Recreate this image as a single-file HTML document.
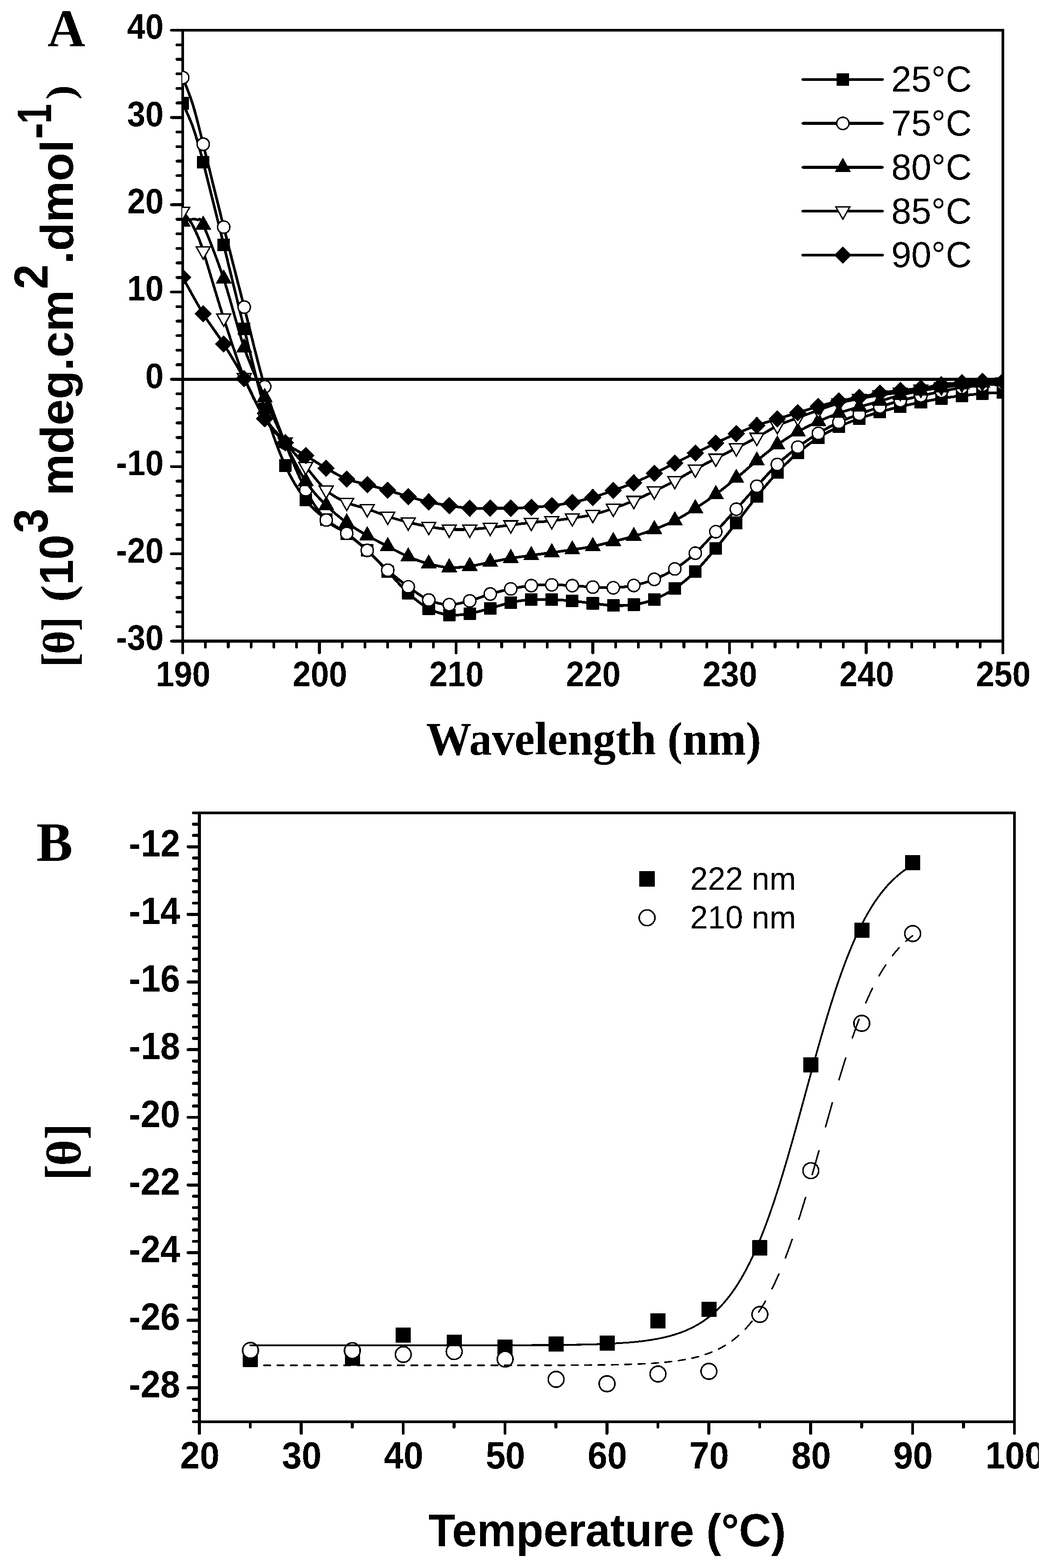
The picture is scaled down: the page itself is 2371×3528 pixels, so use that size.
<!DOCTYPE html>
<html lang="en">
<head>
<meta charset="utf-8">
<title>CD spectra and thermal denaturation</title>
<style>
html,body{margin:0;padding:0;background:#fff;}
#figure{width:2371px;height:3528px;overflow:hidden;position:relative;background:#fff;}
svg{display:block;}
text{white-space:pre;}
</style>
</head>
<body>
<div id="figure">
<svg width="2371" height="3528" viewBox="0 0 2371 3528" role="img" aria-label="Circular dichroism spectra at several temperatures and thermal denaturation curves">
<defs>
<filter id="bw" filterUnits="userSpaceOnUse" x="0" y="0" width="2371" height="3528" color-interpolation-filters="sRGB">
<feComponentTransfer>
<feFuncR type="discrete" tableValues="0 1"/>
<feFuncG type="discrete" tableValues="0 1"/>
<feFuncB type="discrete" tableValues="0 1"/>
</feComponentTransfer>
</filter>
</defs>
<g filter="url(#bw)">
<rect x="0" y="0" width="2371" height="3528" fill="#fff"/>
<g id="panelA-axes" stroke="#000" stroke-linecap="butt" fill="none">
<path d="M411 65 V1446" stroke-width="6.2"/>
<path d="M2256 65 V1446" stroke-width="6.2"/>
<path d="M411 68 H2256" stroke-width="6.2"/>
<path d="M411 1442.5 H2256" stroke-width="7"/>
<path d="M411 853.73 H2256" stroke-width="6.4"/>
</g>
<g id="panelA-ticks" stroke="#000" stroke-width="6.2" stroke-linecap="round" fill="none">
<path d="M385.5 68 H411 M398 100.73 H411 M398 133.45 H411 M398 166.18 H411 M398 198.9 H411 M398 231.63 H411 M385.5 264.36 H411 M398 297.08 H411 M398 329.81 H411 M398 362.54 H411 M398 395.26 H411 M398 427.99 H411 M385.5 460.71 H411 M398 493.44 H411 M398 526.17 H411 M398 558.89 H411 M398 591.62 H411 M398 624.35 H411 M385.5 657.07 H411 M398 689.8 H411 M398 722.52 H411 M398 755.25 H411 M398 787.98 H411 M398 820.7 H411 M385.5 853.43 H411 M398 886.15 H411 M398 918.88 H411 M398 951.61 H411 M398 984.33 H411 M398 1017.06 H411 M385.5 1049.79 H411 M398 1082.51 H411 M398 1115.24 H411 M398 1147.96 H411 M398 1180.69 H411 M398 1213.42 H411 M385.5 1246.14 H411 M398 1278.87 H411 M398 1311.6 H411 M398 1344.32 H411 M398 1377.05 H411 M398 1409.77 H411 M385.5 1442.5 H411 M411 1443.5 V1469 M462.25 1443.5 V1456 M513.5 1443.5 V1456 M564.75 1443.5 V1456 M616 1443.5 V1456 M667.25 1443.5 V1456 M718.5 1443.5 V1469 M769.75 1443.5 V1456 M821 1443.5 V1456 M872.25 1443.5 V1456 M923.5 1443.5 V1456 M974.75 1443.5 V1456 M1026 1443.5 V1469 M1077.25 1443.5 V1456 M1128.5 1443.5 V1456 M1179.75 1443.5 V1456 M1231 1443.5 V1456 M1282.25 1443.5 V1456 M1333.5 1443.5 V1469 M1384.75 1443.5 V1456 M1436 1443.5 V1456 M1487.25 1443.5 V1456 M1538.5 1443.5 V1456 M1589.75 1443.5 V1456 M1641 1443.5 V1469 M1692.25 1443.5 V1456 M1743.5 1443.5 V1456 M1794.75 1443.5 V1456 M1846 1443.5 V1456 M1897.25 1443.5 V1456 M1948.5 1443.5 V1469 M1999.75 1443.5 V1456 M2051 1443.5 V1456 M2102.25 1443.5 V1456 M2153.5 1443.5 V1456 M2204.75 1443.5 V1456 M2256 1443.5 V1469"/>
</g>
<g id="panelA-ticklabels">
<text transform="translate(367.8 87.4) scale(0.925 1)" font-family='"Liberation Sans", sans-serif' font-weight="700" font-size="79.5" text-anchor="end" fill="#000">40</text>
<text transform="translate(367.8 283.76) scale(0.925 1)" font-family='"Liberation Sans", sans-serif' font-weight="700" font-size="79.5" text-anchor="end" fill="#000">30</text>
<text transform="translate(367.8 480.11) scale(0.925 1)" font-family='"Liberation Sans", sans-serif' font-weight="700" font-size="79.5" text-anchor="end" fill="#000">20</text>
<text transform="translate(367.8 676.47) scale(0.925 1)" font-family='"Liberation Sans", sans-serif' font-weight="700" font-size="79.5" text-anchor="end" fill="#000">10</text>
<text transform="translate(367.8 872.83) scale(0.925 1)" font-family='"Liberation Sans", sans-serif' font-weight="700" font-size="79.5" text-anchor="end" fill="#000">0</text>
<text transform="translate(367.8 1069.19) scale(0.925 1)" font-family='"Liberation Sans", sans-serif' font-weight="700" font-size="79.5" text-anchor="end" fill="#000">-10</text>
<text transform="translate(367.8 1265.54) scale(0.925 1)" font-family='"Liberation Sans", sans-serif' font-weight="700" font-size="79.5" text-anchor="end" fill="#000">-20</text>
<text transform="translate(367.8 1461.9) scale(0.925 1)" font-family='"Liberation Sans", sans-serif' font-weight="700" font-size="79.5" text-anchor="end" fill="#000">-30</text>
<text transform="translate(412 1544) scale(0.925 1)" font-family='"Liberation Sans", sans-serif' font-weight="700" font-size="79.5" text-anchor="middle" fill="#000">190</text>
<text transform="translate(719.5 1544) scale(0.925 1)" font-family='"Liberation Sans", sans-serif' font-weight="700" font-size="79.5" text-anchor="middle" fill="#000">200</text>
<text transform="translate(1027 1544) scale(0.925 1)" font-family='"Liberation Sans", sans-serif' font-weight="700" font-size="79.5" text-anchor="middle" fill="#000">210</text>
<text transform="translate(1334.5 1544) scale(0.925 1)" font-family='"Liberation Sans", sans-serif' font-weight="700" font-size="79.5" text-anchor="middle" fill="#000">220</text>
<text transform="translate(1642 1544) scale(0.925 1)" font-family='"Liberation Sans", sans-serif' font-weight="700" font-size="79.5" text-anchor="middle" fill="#000">230</text>
<text transform="translate(1949.5 1544) scale(0.925 1)" font-family='"Liberation Sans", sans-serif' font-weight="700" font-size="79.5" text-anchor="middle" fill="#000">240</text>
<text transform="translate(2257 1544) scale(0.925 1)" font-family='"Liberation Sans", sans-serif' font-weight="700" font-size="79.5" text-anchor="middle" fill="#000">250</text>
</g>
<clipPath id="clipA"><rect x="410" y="68" width="1847" height="1374.5"/></clipPath>
<g id="panelA-data" clip-path="url(#clipA)">
<path d="M411 232.5 C414.83 241.42 426.31 263.92 434 286 C441.69 308.08 445.58 320.83 457.12 365 C468.67 409.17 487.88 488.5 503.25 551 C518.62 613.5 534 678.5 549.38 740 C564.75 801.5 580.12 868.75 595.5 920 C610.88 971.25 626.25 1013.37 641.62 1047.5 C657 1081.63 672.38 1104.55 687.75 1124.8 C703.12 1145.05 718.5 1156.3 733.88 1169 C749.25 1181.7 764.62 1189.43 780 1201 C795.38 1212.57 810.75 1224.23 826.12 1238.4 C841.5 1252.57 856.88 1269.98 872.25 1286 C887.62 1302.02 903 1320.58 918.38 1334.5 C933.75 1348.42 949.12 1361.32 964.5 1369.5 C979.88 1377.68 995.25 1381.75 1010.62 1383.6 C1026 1385.45 1041.38 1383.08 1056.75 1380.6 C1072.12 1378.12 1087.5 1372.85 1102.88 1368.7 C1118.25 1364.55 1133.62 1358.98 1149 1355.7 C1164.38 1352.42 1179.75 1350.12 1195.12 1349 C1210.5 1347.88 1225.88 1348.5 1241.25 1349 C1256.62 1349.5 1272 1350.58 1287.38 1352 C1302.75 1353.42 1318.12 1355.77 1333.5 1357.5 C1348.88 1359.23 1364.25 1361.9 1379.62 1362.4 C1395 1362.9 1410.38 1362.8 1425.75 1360.5 C1441.12 1358.2 1456.5 1354.68 1471.88 1348.6 C1487.25 1342.52 1502.62 1334.43 1518 1324 C1533.38 1313.57 1548.75 1301.02 1564.12 1286 C1579.5 1270.98 1594.88 1252.15 1610.25 1233.9 C1625.62 1215.65 1641 1195.93 1656.38 1176.5 C1671.75 1157.07 1687.12 1136.17 1702.5 1117.3 C1717.88 1098.43 1733.25 1079.68 1748.62 1063.3 C1764 1046.92 1779.38 1032.05 1794.75 1019 C1810.12 1005.95 1825.5 994.83 1840.88 985 C1856.25 975.17 1871.62 967.22 1887 960 C1902.38 952.78 1917.75 947.2 1933.12 941.7 C1948.5 936.2 1963.88 931.45 1979.25 927 C1994.62 922.55 2010 918.67 2025.38 915 C2040.75 911.33 2056.12 908.08 2071.5 905 C2086.88 901.92 2102.25 898.92 2117.62 896.5 C2133 894.08 2148.38 892.33 2163.75 890.5 C2179.12 888.67 2194.5 886.79 2209.88 885.5 C2225.25 884.21 2248.31 883.21 2256 882.75" fill="none" stroke="#000" stroke-width="6" stroke-linejoin="round"/>
<g fill="#000" stroke="none">
<rect x="397" y="218.5" width="28" height="28"/>
<rect x="443.12" y="351" width="28" height="28"/>
<rect x="489.25" y="537" width="28" height="28"/>
<rect x="535.38" y="726" width="28" height="28"/>
<rect x="581.5" y="906" width="28" height="28"/>
<rect x="627.62" y="1033.5" width="28" height="28"/>
<rect x="673.75" y="1110.8" width="28" height="28"/>
<rect x="719.88" y="1155" width="28" height="28"/>
<rect x="766" y="1187" width="28" height="28"/>
<rect x="812.12" y="1224.4" width="28" height="28"/>
<rect x="858.25" y="1272" width="28" height="28"/>
<rect x="904.38" y="1320.5" width="28" height="28"/>
<rect x="950.5" y="1355.5" width="28" height="28"/>
<rect x="996.62" y="1369.6" width="28" height="28"/>
<rect x="1042.75" y="1366.6" width="28" height="28"/>
<rect x="1088.88" y="1354.7" width="28" height="28"/>
<rect x="1135" y="1341.7" width="28" height="28"/>
<rect x="1181.12" y="1335" width="28" height="28"/>
<rect x="1227.25" y="1335" width="28" height="28"/>
<rect x="1273.38" y="1338" width="28" height="28"/>
<rect x="1319.5" y="1343.5" width="28" height="28"/>
<rect x="1365.62" y="1348.4" width="28" height="28"/>
<rect x="1411.75" y="1346.5" width="28" height="28"/>
<rect x="1457.88" y="1334.6" width="28" height="28"/>
<rect x="1504" y="1310" width="28" height="28"/>
<rect x="1550.12" y="1272" width="28" height="28"/>
<rect x="1596.25" y="1219.9" width="28" height="28"/>
<rect x="1642.38" y="1162.5" width="28" height="28"/>
<rect x="1688.5" y="1103.3" width="28" height="28"/>
<rect x="1734.62" y="1049.3" width="28" height="28"/>
<rect x="1780.75" y="1005" width="28" height="28"/>
<rect x="1826.88" y="971" width="28" height="28"/>
<rect x="1873" y="946" width="28" height="28"/>
<rect x="1919.12" y="927.7" width="28" height="28"/>
<rect x="1965.25" y="913" width="28" height="28"/>
<rect x="2011.38" y="901" width="28" height="28"/>
<rect x="2057.5" y="891" width="28" height="28"/>
<rect x="2103.62" y="882.5" width="28" height="28"/>
<rect x="2149.75" y="876.5" width="28" height="28"/>
<rect x="2195.88" y="871.5" width="28" height="28"/>
<rect x="2242" y="868.75" width="28" height="28"/>
</g>
<path d="M411 174.5 C414.83 184.75 426.31 211 434 236 C441.69 261 445.58 278.67 457.12 324.5 C468.67 370.33 487.88 449.92 503.25 511 C518.62 572.08 534 631.17 549.38 691 C564.75 750.83 580.12 819 595.5 870 C610.88 921 626.25 958.27 641.62 997 C657 1035.73 672.38 1073.53 687.75 1102.4 C703.12 1131.27 718.5 1153.93 733.88 1170.2 C749.25 1186.47 764.62 1188.63 780 1200 C795.38 1211.37 810.75 1224.57 826.12 1238.4 C841.5 1252.23 856.88 1269.35 872.25 1283 C887.62 1296.65 903 1309.13 918.38 1320.3 C933.75 1331.47 949.12 1343.3 964.5 1350 C979.88 1356.7 995.25 1360.17 1010.62 1360.5 C1026 1360.83 1041.38 1356 1056.75 1352 C1072.12 1348 1087.5 1341 1102.88 1336.5 C1118.25 1332 1133.62 1328.13 1149 1325 C1164.38 1321.87 1179.75 1319.23 1195.12 1317.7 C1210.5 1316.17 1225.88 1315.8 1241.25 1315.8 C1256.62 1315.8 1272 1316.83 1287.38 1317.7 C1302.75 1318.57 1318.12 1320.2 1333.5 1321 C1348.88 1321.8 1364.25 1323.12 1379.62 1322.5 C1395 1321.88 1410.38 1320.47 1425.75 1317.3 C1441.12 1314.13 1456.5 1309.68 1471.88 1303.5 C1487.25 1297.32 1502.62 1290 1518 1280.2 C1533.38 1270.4 1548.75 1258.68 1564.12 1244.7 C1579.5 1230.72 1594.88 1212.82 1610.25 1196.3 C1625.62 1179.78 1641 1162.65 1656.38 1145.6 C1671.75 1128.55 1687.12 1110.77 1702.5 1094 C1717.88 1077.23 1733.25 1059.67 1748.62 1045 C1764 1030.33 1779.38 1017.67 1794.75 1006 C1810.12 994.33 1825.5 984.33 1840.88 975 C1856.25 965.67 1871.62 957.17 1887 950 C1902.38 942.83 1917.75 937.75 1933.12 932 C1948.5 926.25 1963.88 920.58 1979.25 915.5 C1994.62 910.42 2010 905.63 2025.38 901.5 C2040.75 897.37 2056.12 894.17 2071.5 890.7 C2086.88 887.23 2102.25 883.82 2117.62 880.7 C2133 877.58 2148.38 874.28 2163.75 872 C2179.12 869.72 2194.5 868.5 2209.88 867 C2225.25 865.5 2248.31 863.67 2256 863" fill="none" stroke="#000" stroke-width="6" stroke-linejoin="round"/>
<g fill="#fff" stroke="#000" stroke-width="3.2">
<circle cx="411" cy="174.5" r="13.8"/>
<circle cx="457.12" cy="324.5" r="13.8"/>
<circle cx="503.25" cy="511" r="13.8"/>
<circle cx="549.38" cy="691" r="13.8"/>
<circle cx="595.5" cy="870" r="13.8"/>
<circle cx="641.62" cy="997" r="13.8"/>
<circle cx="687.75" cy="1102.4" r="13.8"/>
<circle cx="733.88" cy="1170.2" r="13.8"/>
<circle cx="780" cy="1200" r="13.8"/>
<circle cx="826.12" cy="1238.4" r="13.8"/>
<circle cx="872.25" cy="1283" r="13.8"/>
<circle cx="918.38" cy="1320.3" r="13.8"/>
<circle cx="964.5" cy="1350" r="13.8"/>
<circle cx="1010.62" cy="1360.5" r="13.8"/>
<circle cx="1056.75" cy="1352" r="13.8"/>
<circle cx="1102.88" cy="1336.5" r="13.8"/>
<circle cx="1149" cy="1325" r="13.8"/>
<circle cx="1195.12" cy="1317.7" r="13.8"/>
<circle cx="1241.25" cy="1315.8" r="13.8"/>
<circle cx="1287.38" cy="1317.7" r="13.8"/>
<circle cx="1333.5" cy="1321" r="13.8"/>
<circle cx="1379.62" cy="1322.5" r="13.8"/>
<circle cx="1425.75" cy="1317.3" r="13.8"/>
<circle cx="1471.88" cy="1303.5" r="13.8"/>
<circle cx="1518" cy="1280.2" r="13.8"/>
<circle cx="1564.12" cy="1244.7" r="13.8"/>
<circle cx="1610.25" cy="1196.3" r="13.8"/>
<circle cx="1656.38" cy="1145.6" r="13.8"/>
<circle cx="1702.5" cy="1094" r="13.8"/>
<circle cx="1748.62" cy="1045" r="13.8"/>
<circle cx="1794.75" cy="1006" r="13.8"/>
<circle cx="1840.88" cy="975" r="13.8"/>
<circle cx="1887" cy="950" r="13.8"/>
<circle cx="1933.12" cy="932" r="13.8"/>
<circle cx="1979.25" cy="915.5" r="13.8"/>
<circle cx="2025.38" cy="901.5" r="13.8"/>
<circle cx="2071.5" cy="890.7" r="13.8"/>
<circle cx="2117.62" cy="880.7" r="13.8"/>
<circle cx="2163.75" cy="872" r="13.8"/>
<circle cx="2209.88" cy="867" r="13.8"/>
<circle cx="2256" cy="863" r="13.8"/>
</g>
<path d="M411 499 C413.67 498.17 421.5 494.75 427 494 C432.5 493.25 438.98 492.5 444 494.5 C449.02 496.5 447.25 483.83 457.12 506 C467 528.17 487.88 581.42 503.25 627.5 C518.62 673.58 534 738.08 549.38 782.5 C564.75 826.92 580.12 858.25 595.5 894 C610.88 929.75 626.25 965.5 641.62 997 C657 1028.5 672.38 1059.67 687.75 1083 C703.12 1106.33 718.5 1121.5 733.88 1137 C749.25 1152.5 764.62 1164.67 780 1176 C795.38 1187.33 810.75 1196.1 826.12 1205 C841.5 1213.9 856.88 1221.48 872.25 1229.4 C887.62 1237.32 903 1245.98 918.38 1252.5 C933.75 1259.02 949.12 1264.42 964.5 1268.5 C979.88 1272.58 995.25 1276.08 1010.62 1277 C1026 1277.92 1041.38 1276.03 1056.75 1274 C1072.12 1271.97 1087.5 1267.77 1102.88 1264.8 C1118.25 1261.83 1133.62 1258.75 1149 1256.2 C1164.38 1253.65 1179.75 1251.67 1195.12 1249.5 C1210.5 1247.33 1225.88 1245.3 1241.25 1243.2 C1256.62 1241.1 1272 1239.2 1287.38 1236.9 C1302.75 1234.6 1318.12 1232.52 1333.5 1229.4 C1348.88 1226.28 1364.25 1221.98 1379.62 1218.2 C1395 1214.42 1410.38 1211.23 1425.75 1206.7 C1441.12 1202.17 1456.5 1196.9 1471.88 1191 C1487.25 1185.1 1502.62 1179.13 1518 1171.3 C1533.38 1163.47 1548.75 1153.82 1564.12 1144 C1579.5 1134.18 1594.88 1123.77 1610.25 1112.4 C1625.62 1101.03 1641 1088.42 1656.38 1075.8 C1671.75 1063.18 1687.12 1049.22 1702.5 1036.7 C1717.88 1024.18 1733.25 1011.6 1748.62 1000.7 C1764 989.8 1779.38 980.05 1794.75 971.3 C1810.12 962.55 1825.5 955.17 1840.88 948.2 C1856.25 941.23 1871.62 934.95 1887 929.5 C1902.38 924.05 1917.75 920 1933.12 915.5 C1948.5 911 1963.88 906.88 1979.25 902.5 C1994.62 898.12 2010 893.07 2025.38 889.2 C2040.75 885.33 2056.12 882.1 2071.5 879.3 C2086.88 876.5 2102.25 874.7 2117.62 872.4 C2133 870.1 2148.38 867.33 2163.75 865.5 C2179.12 863.67 2194.5 862.57 2209.88 861.4 C2225.25 860.23 2248.31 858.98 2256 858.5" fill="none" stroke="#000" stroke-width="6" stroke-linejoin="round"/>
<g fill="#000" stroke="none">
<path d="M411 477.4 L429.1 509.4 L392.9 509.4 Z"/>
<path d="M457.12 484.4 L475.23 516.4 L439.02 516.4 Z"/>
<path d="M503.25 605.9 L521.35 637.9 L485.15 637.9 Z"/>
<path d="M549.38 760.9 L567.48 792.9 L531.27 792.9 Z"/>
<path d="M595.5 872.4 L613.6 904.4 L577.4 904.4 Z"/>
<path d="M641.62 975.4 L659.73 1007.4 L623.52 1007.4 Z"/>
<path d="M687.75 1061.4 L705.85 1093.4 L669.65 1093.4 Z"/>
<path d="M733.88 1115.4 L751.98 1147.4 L715.77 1147.4 Z"/>
<path d="M780 1154.4 L798.1 1186.4 L761.9 1186.4 Z"/>
<path d="M826.12 1183.4 L844.23 1215.4 L808.02 1215.4 Z"/>
<path d="M872.25 1207.8 L890.35 1239.8 L854.15 1239.8 Z"/>
<path d="M918.38 1230.9 L936.48 1262.9 L900.27 1262.9 Z"/>
<path d="M964.5 1246.9 L982.6 1278.9 L946.4 1278.9 Z"/>
<path d="M1010.62 1255.4 L1028.72 1287.4 L992.52 1287.4 Z"/>
<path d="M1056.75 1252.4 L1074.85 1284.4 L1038.65 1284.4 Z"/>
<path d="M1102.88 1243.2 L1120.97 1275.2 L1084.78 1275.2 Z"/>
<path d="M1149 1234.6 L1167.1 1266.6 L1130.9 1266.6 Z"/>
<path d="M1195.12 1227.9 L1213.22 1259.9 L1177.03 1259.9 Z"/>
<path d="M1241.25 1221.6 L1259.35 1253.6 L1223.15 1253.6 Z"/>
<path d="M1287.38 1215.3 L1305.47 1247.3 L1269.28 1247.3 Z"/>
<path d="M1333.5 1207.8 L1351.6 1239.8 L1315.4 1239.8 Z"/>
<path d="M1379.62 1196.6 L1397.72 1228.6 L1361.53 1228.6 Z"/>
<path d="M1425.75 1185.1 L1443.85 1217.1 L1407.65 1217.1 Z"/>
<path d="M1471.88 1169.4 L1489.97 1201.4 L1453.78 1201.4 Z"/>
<path d="M1518 1149.7 L1536.1 1181.7 L1499.9 1181.7 Z"/>
<path d="M1564.12 1122.4 L1582.22 1154.4 L1546.03 1154.4 Z"/>
<path d="M1610.25 1090.8 L1628.35 1122.8 L1592.15 1122.8 Z"/>
<path d="M1656.38 1054.2 L1674.47 1086.2 L1638.28 1086.2 Z"/>
<path d="M1702.5 1015.1 L1720.6 1047.1 L1684.4 1047.1 Z"/>
<path d="M1748.62 979.1 L1766.72 1011.1 L1730.53 1011.1 Z"/>
<path d="M1794.75 949.7 L1812.85 981.7 L1776.65 981.7 Z"/>
<path d="M1840.88 926.6 L1858.97 958.6 L1822.78 958.6 Z"/>
<path d="M1887 907.9 L1905.1 939.9 L1868.9 939.9 Z"/>
<path d="M1933.12 893.9 L1951.22 925.9 L1915.03 925.9 Z"/>
<path d="M1979.25 880.9 L1997.35 912.9 L1961.15 912.9 Z"/>
<path d="M2025.38 867.6 L2043.47 899.6 L2007.28 899.6 Z"/>
<path d="M2071.5 857.7 L2089.6 889.7 L2053.4 889.7 Z"/>
<path d="M2117.62 850.8 L2135.72 882.8 L2099.53 882.8 Z"/>
<path d="M2163.75 843.9 L2181.85 875.9 L2145.65 875.9 Z"/>
<path d="M2209.88 839.8 L2227.97 871.8 L2191.78 871.8 Z"/>
<path d="M2256 836.9 L2274.1 868.9 L2237.9 868.9 Z"/>
</g>
<path d="M411 476 C414.17 480.17 424.67 492.5 430 501 C435.33 509.5 438.48 516.33 443 527 C447.52 537.67 447.08 533.5 457.12 565 C467.17 596.5 487.88 668.5 503.25 716 C518.62 763.5 534 812.75 549.38 850 C564.75 887.25 580.12 915.33 595.5 939.5 C610.88 963.67 626.25 976.58 641.62 995 C657 1013.42 672.38 1031.97 687.75 1050 C703.12 1068.03 718.5 1089.75 733.88 1103.2 C749.25 1116.65 764.62 1123.73 780 1130.7 C795.38 1137.67 810.75 1139.78 826.12 1145 C841.5 1150.22 856.88 1157 872.25 1162 C887.62 1167 903 1171.17 918.38 1175 C933.75 1178.83 949.12 1182.33 964.5 1185 C979.88 1187.67 995.25 1190 1010.62 1191 C1026 1192 1041.38 1191.67 1056.75 1191 C1072.12 1190.33 1087.5 1188.6 1102.88 1187 C1118.25 1185.4 1133.62 1183.27 1149 1181.4 C1164.38 1179.53 1179.75 1177.37 1195.12 1175.8 C1210.5 1174.23 1225.88 1173.68 1241.25 1172 C1256.62 1170.32 1272 1168.03 1287.38 1165.7 C1302.75 1163.37 1318.12 1161.62 1333.5 1158 C1348.88 1154.38 1364.25 1149.23 1379.62 1144 C1395 1138.77 1410.38 1133.1 1425.75 1126.6 C1441.12 1120.1 1456.5 1112.47 1471.88 1105 C1487.25 1097.53 1502.62 1089.98 1518 1081.8 C1533.38 1073.62 1548.75 1064.28 1564.12 1055.9 C1579.5 1047.52 1594.88 1039.45 1610.25 1031.5 C1625.62 1023.55 1641 1016.05 1656.38 1008.2 C1671.75 1000.35 1687.12 992.77 1702.5 984.4 C1717.88 976.03 1733.25 965.4 1748.62 958 C1764 950.6 1779.38 945.83 1794.75 940 C1810.12 934.17 1825.5 928.5 1840.88 923 C1856.25 917.5 1871.62 911.33 1887 907 C1902.38 902.67 1917.75 900 1933.12 897 C1948.5 894 1963.88 891.33 1979.25 889 C1994.62 886.67 2010 885.17 2025.38 883 C2040.75 880.83 2056.12 878.05 2071.5 876 C2086.88 873.95 2102.25 872.7 2117.62 870.7 C2133 868.7 2148.38 865.53 2163.75 864 C2179.12 862.47 2194.5 862.17 2209.88 861.5 C2225.25 860.83 2248.31 860.25 2256 860" fill="none" stroke="#000" stroke-width="6" stroke-linejoin="round"/>
<g fill="#fff" stroke="#000" stroke-width="3.1" stroke-linejoin="miter">
<path d="M411 494 L426.6 466.5 L395.4 466.5 Z"/>
<path d="M457.12 583 L472.73 555.5 L441.52 555.5 Z"/>
<path d="M503.25 734 L518.85 706.5 L487.65 706.5 Z"/>
<path d="M549.38 868 L564.98 840.5 L533.77 840.5 Z"/>
<path d="M595.5 957.5 L611.1 930 L579.9 930 Z"/>
<path d="M641.62 1013 L657.23 985.5 L626.02 985.5 Z"/>
<path d="M687.75 1068 L703.35 1040.5 L672.15 1040.5 Z"/>
<path d="M733.88 1121.2 L749.48 1093.7 L718.27 1093.7 Z"/>
<path d="M780 1148.7 L795.6 1121.2 L764.4 1121.2 Z"/>
<path d="M826.12 1163 L841.73 1135.5 L810.52 1135.5 Z"/>
<path d="M872.25 1180 L887.85 1152.5 L856.65 1152.5 Z"/>
<path d="M918.38 1193 L933.98 1165.5 L902.77 1165.5 Z"/>
<path d="M964.5 1203 L980.1 1175.5 L948.9 1175.5 Z"/>
<path d="M1010.62 1209 L1026.22 1181.5 L995.02 1181.5 Z"/>
<path d="M1056.75 1209 L1072.35 1181.5 L1041.15 1181.5 Z"/>
<path d="M1102.88 1205 L1118.47 1177.5 L1087.28 1177.5 Z"/>
<path d="M1149 1199.4 L1164.6 1171.9 L1133.4 1171.9 Z"/>
<path d="M1195.12 1193.8 L1210.72 1166.3 L1179.53 1166.3 Z"/>
<path d="M1241.25 1190 L1256.85 1162.5 L1225.65 1162.5 Z"/>
<path d="M1287.38 1183.7 L1302.97 1156.2 L1271.78 1156.2 Z"/>
<path d="M1333.5 1176 L1349.1 1148.5 L1317.9 1148.5 Z"/>
<path d="M1379.62 1162 L1395.22 1134.5 L1364.03 1134.5 Z"/>
<path d="M1425.75 1144.6 L1441.35 1117.1 L1410.15 1117.1 Z"/>
<path d="M1471.88 1123 L1487.47 1095.5 L1456.28 1095.5 Z"/>
<path d="M1518 1099.8 L1533.6 1072.3 L1502.4 1072.3 Z"/>
<path d="M1564.12 1073.9 L1579.72 1046.4 L1548.53 1046.4 Z"/>
<path d="M1610.25 1049.5 L1625.85 1022 L1594.65 1022 Z"/>
<path d="M1656.38 1026.2 L1671.97 998.7 L1640.78 998.7 Z"/>
<path d="M1702.5 1002.4 L1718.1 974.9 L1686.9 974.9 Z"/>
<path d="M1748.62 976 L1764.22 948.5 L1733.03 948.5 Z"/>
<path d="M1794.75 958 L1810.35 930.5 L1779.15 930.5 Z"/>
<path d="M1840.88 941 L1856.47 913.5 L1825.28 913.5 Z"/>
<path d="M1887 925 L1902.6 897.5 L1871.4 897.5 Z"/>
<path d="M1933.12 915 L1948.72 887.5 L1917.53 887.5 Z"/>
<path d="M1979.25 907 L1994.85 879.5 L1963.65 879.5 Z"/>
<path d="M2025.38 901 L2040.97 873.5 L2009.78 873.5 Z"/>
<path d="M2071.5 894 L2087.1 866.5 L2055.9 866.5 Z"/>
<path d="M2117.62 888.7 L2133.22 861.2 L2102.03 861.2 Z"/>
<path d="M2163.75 882 L2179.35 854.5 L2148.15 854.5 Z"/>
<path d="M2209.88 879.5 L2225.47 852 L2194.28 852 Z"/>
<path d="M2256 878 L2271.6 850.5 L2240.4 850.5 Z"/>
</g>
<path d="M411 624 C418.69 637.67 441.75 681 457.12 706 C472.5 731 487.88 749.67 503.25 774 C518.62 798.33 534 824 549.38 852 C564.75 880 580.12 918 595.5 942 C610.88 966 626.25 982.17 641.62 996 C657 1009.83 672.38 1015.42 687.75 1025 C703.12 1034.58 718.5 1044.7 733.88 1053.5 C749.25 1062.3 764.62 1071.63 780 1077.8 C795.38 1083.97 810.75 1086.3 826.12 1090.5 C841.5 1094.7 856.88 1098.53 872.25 1103 C887.62 1107.47 903 1112.93 918.38 1117.3 C933.75 1121.67 949.12 1125.78 964.5 1129.2 C979.88 1132.62 995.25 1135.4 1010.62 1137.8 C1026 1140.2 1041.38 1142.67 1056.75 1143.6 C1072.12 1144.53 1087.5 1143.43 1102.88 1143.4 C1118.25 1143.37 1133.62 1143.72 1149 1143.4 C1164.38 1143.08 1179.75 1142.43 1195.12 1141.5 C1210.5 1140.57 1225.88 1139.65 1241.25 1137.8 C1256.62 1135.95 1272 1133.5 1287.38 1130.4 C1302.75 1127.3 1318.12 1123.68 1333.5 1119.2 C1348.88 1114.72 1364.25 1108.97 1379.62 1103.5 C1395 1098.03 1410.38 1092.78 1425.75 1086.4 C1441.12 1080.02 1456.5 1072.6 1471.88 1065.2 C1487.25 1057.8 1502.62 1049.62 1518 1042 C1533.38 1034.38 1548.75 1027 1564.12 1019.5 C1579.5 1012 1594.88 1004.28 1610.25 997 C1625.62 989.72 1641 982.43 1656.38 975.8 C1671.75 969.17 1687.12 962.73 1702.5 957.2 C1717.88 951.67 1733.25 947.38 1748.62 942.6 C1764 937.82 1779.38 933.15 1794.75 928.5 C1810.12 923.85 1825.5 919.07 1840.88 914.7 C1856.25 910.33 1871.62 905.75 1887 902.3 C1902.38 898.85 1917.75 896.97 1933.12 894 C1948.5 891.03 1963.88 887.12 1979.25 884.5 C1994.62 881.88 2010 880.05 2025.38 878.3 C2040.75 876.55 2056.12 876.13 2071.5 874 C2086.88 871.87 2102.25 867.67 2117.62 865.5 C2133 863.33 2148.38 862.29 2163.75 861 C2179.12 859.71 2194.5 858.17 2209.88 857.75 C2225.25 857.33 2248.31 858.38 2256 858.5" fill="none" stroke="#000" stroke-width="6" stroke-linejoin="round"/>
<g fill="#000" stroke="none">
<path d="M411 604.4 L430.6 624 L411 643.6 L391.4 624 Z"/>
<path d="M457.12 686.4 L476.73 706 L457.12 725.6 L437.52 706 Z"/>
<path d="M503.25 754.4 L522.85 774 L503.25 793.6 L483.65 774 Z"/>
<path d="M549.38 832.4 L568.98 852 L549.38 871.6 L529.77 852 Z"/>
<path d="M595.5 922.4 L615.1 942 L595.5 961.6 L575.9 942 Z"/>
<path d="M641.62 976.4 L661.23 996 L641.62 1015.6 L622.02 996 Z"/>
<path d="M687.75 1005.4 L707.35 1025 L687.75 1044.6 L668.15 1025 Z"/>
<path d="M733.88 1033.9 L753.48 1053.5 L733.88 1073.1 L714.27 1053.5 Z"/>
<path d="M780 1058.2 L799.6 1077.8 L780 1097.4 L760.4 1077.8 Z"/>
<path d="M826.12 1070.9 L845.73 1090.5 L826.12 1110.1 L806.52 1090.5 Z"/>
<path d="M872.25 1083.4 L891.85 1103 L872.25 1122.6 L852.65 1103 Z"/>
<path d="M918.38 1097.7 L937.98 1117.3 L918.38 1136.9 L898.77 1117.3 Z"/>
<path d="M964.5 1109.6 L984.1 1129.2 L964.5 1148.8 L944.9 1129.2 Z"/>
<path d="M1010.62 1118.2 L1030.22 1137.8 L1010.62 1157.4 L991.02 1137.8 Z"/>
<path d="M1056.75 1124 L1076.35 1143.6 L1056.75 1163.2 L1037.15 1143.6 Z"/>
<path d="M1102.88 1123.8 L1122.47 1143.4 L1102.88 1163 L1083.28 1143.4 Z"/>
<path d="M1149 1123.8 L1168.6 1143.4 L1149 1163 L1129.4 1143.4 Z"/>
<path d="M1195.12 1121.9 L1214.72 1141.5 L1195.12 1161.1 L1175.53 1141.5 Z"/>
<path d="M1241.25 1118.2 L1260.85 1137.8 L1241.25 1157.4 L1221.65 1137.8 Z"/>
<path d="M1287.38 1110.8 L1306.97 1130.4 L1287.38 1150 L1267.78 1130.4 Z"/>
<path d="M1333.5 1099.6 L1353.1 1119.2 L1333.5 1138.8 L1313.9 1119.2 Z"/>
<path d="M1379.62 1083.9 L1399.22 1103.5 L1379.62 1123.1 L1360.03 1103.5 Z"/>
<path d="M1425.75 1066.8 L1445.35 1086.4 L1425.75 1106 L1406.15 1086.4 Z"/>
<path d="M1471.88 1045.6 L1491.47 1065.2 L1471.88 1084.8 L1452.28 1065.2 Z"/>
<path d="M1518 1022.4 L1537.6 1042 L1518 1061.6 L1498.4 1042 Z"/>
<path d="M1564.12 999.9 L1583.72 1019.5 L1564.12 1039.1 L1544.53 1019.5 Z"/>
<path d="M1610.25 977.4 L1629.85 997 L1610.25 1016.6 L1590.65 997 Z"/>
<path d="M1656.38 956.2 L1675.97 975.8 L1656.38 995.4 L1636.78 975.8 Z"/>
<path d="M1702.5 937.6 L1722.1 957.2 L1702.5 976.8 L1682.9 957.2 Z"/>
<path d="M1748.62 923 L1768.22 942.6 L1748.62 962.2 L1729.03 942.6 Z"/>
<path d="M1794.75 908.9 L1814.35 928.5 L1794.75 948.1 L1775.15 928.5 Z"/>
<path d="M1840.88 895.1 L1860.47 914.7 L1840.88 934.3 L1821.28 914.7 Z"/>
<path d="M1887 882.7 L1906.6 902.3 L1887 921.9 L1867.4 902.3 Z"/>
<path d="M1933.12 874.4 L1952.72 894 L1933.12 913.6 L1913.53 894 Z"/>
<path d="M1979.25 864.9 L1998.85 884.5 L1979.25 904.1 L1959.65 884.5 Z"/>
<path d="M2025.38 858.7 L2044.97 878.3 L2025.38 897.9 L2005.78 878.3 Z"/>
<path d="M2071.5 854.4 L2091.1 874 L2071.5 893.6 L2051.9 874 Z"/>
<path d="M2117.62 845.9 L2137.22 865.5 L2117.62 885.1 L2098.03 865.5 Z"/>
<path d="M2163.75 841.4 L2183.35 861 L2163.75 880.6 L2144.15 861 Z"/>
<path d="M2209.88 838.15 L2229.47 857.75 L2209.88 877.35 L2190.28 857.75 Z"/>
<path d="M2256 838.9 L2275.6 858.5 L2256 878.1 L2236.4 858.5 Z"/>
</g>
</g>
<g id="panelA-legend">
<path d="M1806 178.8 H1985" stroke="#000" stroke-width="6" stroke-linecap="round" fill="none"/>
<g fill="#000" stroke="none"><rect x="1882" y="164.8" width="28" height="28"/></g>
<text x="2005" y="206.2" font-family='"Liberation Sans", sans-serif' font-size="81" fill="#000">25°C</text>
<path d="M1806 277.6 H1985" stroke="#000" stroke-width="6" stroke-linecap="round" fill="none"/>
<g fill="#fff" stroke="#000" stroke-width="3.2"><circle cx="1896" cy="277.6" r="13.8"/></g>
<text x="2005" y="305" font-family='"Liberation Sans", sans-serif' font-size="81" fill="#000">75°C</text>
<path d="M1806 376.4 H1985" stroke="#000" stroke-width="6" stroke-linecap="round" fill="none"/>
<g fill="#000" stroke="none"><path d="M1896 354.8 L1914.1 386.8 L1877.9 386.8 Z"/></g>
<text x="2005" y="403.8" font-family='"Liberation Sans", sans-serif' font-size="81" fill="#000">80°C</text>
<path d="M1806 475.2 H1985" stroke="#000" stroke-width="6" stroke-linecap="round" fill="none"/>
<g fill="#fff" stroke="#000" stroke-width="3.1" stroke-linejoin="miter"><path d="M1896 493.2 L1911.6 465.7 L1880.4 465.7 Z"/></g>
<text x="2005" y="502.6" font-family='"Liberation Sans", sans-serif' font-size="81" fill="#000">85°C</text>
<path d="M1806 574 H1985" stroke="#000" stroke-width="6" stroke-linecap="round" fill="none"/>
<g fill="#000" stroke="none"><path d="M1896 554.4 L1915.6 574 L1896 593.6 L1876.4 574 Z"/></g>
<text x="2005" y="601.4" font-family='"Liberation Sans", sans-serif' font-size="81" fill="#000">90°C</text>
</g>
<text transform="translate(958.5 1698) scale(0.975 1)" font-family='"Liberation Serif", serif' font-weight="700" font-size="105" text-anchor="start" fill="#000" id="xtitleA">Wavelength (nm)</text>
<text transform="translate(106.62 104) scale(0.9759 1)" font-family='"Liberation Serif", serif' font-weight="700" font-size="121.36" fill="#000">A</text>
<g id="ytitleA"><title>[θ] (10^3 mdeg.cm^2.dmol^-1)</title>
<text transform="translate(170.18 1501.03) rotate(-90) scale(0.8740 1)" font-family='"Liberation Serif", serif' font-weight="700" font-size="111.17" fill="#000">[</text>
<text transform="translate(166.1 1471.89) rotate(-90) scale(1.0227 1)" font-family='"Liberation Serif", serif' font-weight="700" font-size="100" fill="#000">θ</text>
<text transform="translate(170.18 1420.26) rotate(-90) scale(0.8740 1)" font-family='"Liberation Serif", serif' font-weight="700" font-size="111.17" fill="#000">]</text>
<text transform="translate(163.99 1354.63) rotate(-90) scale(1.1181 1)" font-family='"Liberation Serif", serif' font-weight="700" font-size="103.84" fill="#000">(</text>
<text transform="translate(164.12 1316.16) rotate(-90) scale(0.9430 1)" font-family='"Liberation Sans", sans-serif' font-weight="700" font-size="108.18" fill="#000">10</text>
<text transform="translate(107.02 1199.41) rotate(-90) scale(0.9168 1)" font-family='"Liberation Sans", sans-serif' font-weight="700" font-size="107.83" fill="#000">3</text>
<text transform="translate(164.2 1115.03) rotate(-90) scale(1.0154 1)" font-family='"Liberation Sans", sans-serif' font-weight="700" font-size="103.83" fill="#000">mdeg.cm</text>
<text transform="translate(107 651.09) rotate(-90) scale(0.9424 1)" font-family='"Liberation Sans", sans-serif' font-weight="700" font-size="107.8" fill="#000">2</text>
<text transform="translate(164.16 593.88) rotate(-90) scale(1.0089 1)" font-family='"Liberation Sans", sans-serif' font-weight="700" font-size="103.78" fill="#000">.dmol</text>
<text transform="translate(116.93 313.36) rotate(-90) scale(1.0450 1)" font-family='"Liberation Sans", sans-serif' font-weight="700" font-size="109.17" fill="#000">-</text>
<text transform="translate(115 278.56) rotate(-90) scale(0.7337 1)" font-family='"Liberation Sans", sans-serif' font-weight="700" font-size="108.84" fill="#000">1</text>
<text transform="translate(164.53 224.27) rotate(-90) scale(1.1045 1)" font-family='"Liberation Serif", serif' font-weight="700" font-size="88.89" fill="#000">)</text>
</g>
<g id="panelB-axes" stroke="#000" stroke-linecap="butt" fill="none">
<path d="M448.5 1826 V3202" stroke-width="7"/>
<path d="M2282 1826 V3202" stroke-width="6.2"/>
<path d="M448.5 1829 H2282" stroke-width="6.2"/>
<path d="M448.5 3199 H2282" stroke-width="6.2"/>
</g>
<g id="panelB-ticks" stroke="#000" stroke-width="6.6" stroke-linecap="round" fill="none">
<path d="M435 1829 H448.5 M435 1854.37 H448.5 M435 1879.74 H448.5 M423 1905.11 H448.5 M435 1930.48 H448.5 M435 1955.85 H448.5 M435 1981.22 H448.5 M435 2006.59 H448.5 M435 2031.96 H448.5 M423 2057.33 H448.5 M435 2082.7 H448.5 M435 2108.07 H448.5 M435 2133.44 H448.5 M435 2158.81 H448.5 M435 2184.19 H448.5 M423 2209.56 H448.5 M435 2234.93 H448.5 M435 2260.3 H448.5 M435 2285.67 H448.5 M435 2311.04 H448.5 M435 2336.41 H448.5 M423 2361.78 H448.5 M435 2387.15 H448.5 M435 2412.52 H448.5 M435 2437.89 H448.5 M435 2463.26 H448.5 M435 2488.63 H448.5 M423 2514 H448.5 M435 2539.37 H448.5 M435 2564.74 H448.5 M435 2590.11 H448.5 M435 2615.48 H448.5 M435 2640.85 H448.5 M423 2666.22 H448.5 M435 2691.59 H448.5 M435 2716.96 H448.5 M435 2742.33 H448.5 M435 2767.7 H448.5 M435 2793.07 H448.5 M423 2818.44 H448.5 M435 2843.81 H448.5 M435 2869.19 H448.5 M435 2894.56 H448.5 M435 2919.93 H448.5 M435 2945.3 H448.5 M423 2970.67 H448.5 M435 2996.04 H448.5 M435 3021.41 H448.5 M435 3046.78 H448.5 M435 3072.15 H448.5 M435 3097.52 H448.5 M423 3122.89 H448.5 M435 3148.26 H448.5 M435 3173.63 H448.5 M435 3199 H448.5 M448.5 3200 V3225 M563.09 3200 V3211 M677.69 3200 V3225 M792.28 3200 V3211 M906.88 3200 V3225 M1021.47 3200 V3211 M1136.06 3200 V3225 M1250.66 3200 V3211 M1365.25 3200 V3225 M1479.84 3200 V3211 M1594.44 3200 V3225 M1709.03 3200 V3211 M1823.62 3200 V3225 M1938.22 3200 V3211 M2052.81 3200 V3225 M2167.41 3200 V3211 M2282 3200 V3225"/>
</g>
<g id="panelB-ticklabels">
<text transform="translate(405.2 1926.71) scale(0.93 1)" font-family='"Liberation Sans", sans-serif' font-weight="700" font-size="85.7" text-anchor="end" fill="#000">-12</text>
<text transform="translate(405.2 2078.93) scale(0.93 1)" font-family='"Liberation Sans", sans-serif' font-weight="700" font-size="85.7" text-anchor="end" fill="#000">-14</text>
<text transform="translate(405.2 2231.16) scale(0.93 1)" font-family='"Liberation Sans", sans-serif' font-weight="700" font-size="85.7" text-anchor="end" fill="#000">-16</text>
<text transform="translate(405.2 2383.38) scale(0.93 1)" font-family='"Liberation Sans", sans-serif' font-weight="700" font-size="85.7" text-anchor="end" fill="#000">-18</text>
<text transform="translate(405.2 2535.6) scale(0.93 1)" font-family='"Liberation Sans", sans-serif' font-weight="700" font-size="85.7" text-anchor="end" fill="#000">-20</text>
<text transform="translate(405.2 2687.82) scale(0.93 1)" font-family='"Liberation Sans", sans-serif' font-weight="700" font-size="85.7" text-anchor="end" fill="#000">-22</text>
<text transform="translate(405.2 2840.04) scale(0.93 1)" font-family='"Liberation Sans", sans-serif' font-weight="700" font-size="85.7" text-anchor="end" fill="#000">-24</text>
<text transform="translate(405.2 2992.27) scale(0.93 1)" font-family='"Liberation Sans", sans-serif' font-weight="700" font-size="85.7" text-anchor="end" fill="#000">-26</text>
<text transform="translate(405.2 3144.49) scale(0.93 1)" font-family='"Liberation Sans", sans-serif' font-weight="700" font-size="85.7" text-anchor="end" fill="#000">-28</text>
<text transform="translate(449.5 3304) scale(0.93 1)" font-family='"Liberation Sans", sans-serif' font-weight="700" font-size="85.7" text-anchor="middle" fill="#000">20</text>
<text transform="translate(678.69 3304) scale(0.93 1)" font-family='"Liberation Sans", sans-serif' font-weight="700" font-size="85.7" text-anchor="middle" fill="#000">30</text>
<text transform="translate(907.88 3304) scale(0.93 1)" font-family='"Liberation Sans", sans-serif' font-weight="700" font-size="85.7" text-anchor="middle" fill="#000">40</text>
<text transform="translate(1137.06 3304) scale(0.93 1)" font-family='"Liberation Sans", sans-serif' font-weight="700" font-size="85.7" text-anchor="middle" fill="#000">50</text>
<text transform="translate(1366.25 3304) scale(0.93 1)" font-family='"Liberation Sans", sans-serif' font-weight="700" font-size="85.7" text-anchor="middle" fill="#000">60</text>
<text transform="translate(1595.44 3304) scale(0.93 1)" font-family='"Liberation Sans", sans-serif' font-weight="700" font-size="85.7" text-anchor="middle" fill="#000">70</text>
<text transform="translate(1824.62 3304) scale(0.93 1)" font-family='"Liberation Sans", sans-serif' font-weight="700" font-size="85.7" text-anchor="middle" fill="#000">80</text>
<text transform="translate(2053.81 3304) scale(0.93 1)" font-family='"Liberation Sans", sans-serif' font-weight="700" font-size="85.7" text-anchor="middle" fill="#000">90</text>
<text transform="translate(2283 3304) scale(0.93 1)" font-family='"Liberation Sans", sans-serif' font-weight="700" font-size="85.7" text-anchor="middle" fill="#000">100</text>
</g>
<g id="panelB-data">
<g fill="#000">
<rect x="546.39" y="3041.5" width="34" height="34"/>
<rect x="775.58" y="3038.5" width="34" height="34"/>
<rect x="890.17" y="2987" width="34" height="34"/>
<rect x="1004.77" y="3003" width="34" height="34"/>
<rect x="1119.36" y="3014" width="34" height="34"/>
<rect x="1233.96" y="3007" width="34" height="34"/>
<rect x="1348.55" y="3005" width="34" height="34"/>
<rect x="1463.14" y="2955" width="34" height="34"/>
<rect x="1577.74" y="2929" width="34" height="34"/>
<rect x="1692.33" y="2790.5" width="34" height="34"/>
<rect x="1806.92" y="2379" width="34" height="34"/>
<rect x="1921.52" y="2076" width="34" height="34"/>
<rect x="2036.11" y="1924" width="34" height="34"/>
</g>
<g fill="#fff" stroke="#000" stroke-width="3.5">
<circle cx="563.39" cy="3038.5" r="17.7"/>
<circle cx="792.58" cy="3039" r="17.7"/>
<circle cx="907.17" cy="3047.5" r="17.7"/>
<circle cx="1021.77" cy="3041" r="17.7"/>
<circle cx="1136.36" cy="3058" r="17.7"/>
<circle cx="1250.96" cy="3103.5" r="17.7"/>
<circle cx="1365.55" cy="3113.5" r="17.7"/>
<circle cx="1480.14" cy="3091.5" r="17.7"/>
<circle cx="1594.74" cy="3085.5" r="17.7"/>
<circle cx="1709.33" cy="2957.5" r="17.7"/>
<circle cx="1823.92" cy="2634" r="17.7"/>
<circle cx="1938.52" cy="2302.5" r="17.7"/>
<circle cx="2053.11" cy="2100.5" r="17.7"/>
</g>
<path d="M563.09 3027 L566.82 3027 L570.54 3027 L574.27 3027 L577.99 3027 L581.72 3027 L585.44 3027 L589.16 3027 L592.89 3027 L596.61 3027 L600.34 3027 L604.06 3027 L607.79 3027 L611.51 3027 L615.23 3027 L618.96 3027 L622.68 3027 L626.41 3027 L630.13 3027 L633.86 3027 L637.58 3027 L641.3 3027 L645.03 3027 L648.75 3027 L652.48 3027 L656.2 3027 L659.93 3027 L663.65 3027 L667.37 3027 L671.1 3027 L674.82 3027 L678.55 3027 L682.27 3027 L686 3027 L689.72 3027 L693.44 3027 L697.17 3027 L700.89 3027 L704.62 3027 L708.34 3027 L712.07 3027 L715.79 3027 L719.51 3027 L723.24 3027 L726.96 3027 L730.69 3027 L734.41 3027 L738.14 3027 L741.86 3027 L745.58 3027 L749.31 3027 L753.03 3027 L756.76 3027 L760.48 3027 L764.21 3027 L767.93 3027 L771.65 3027 L775.38 3027 L779.1 3027 L782.83 3027 L786.55 3027 L790.28 3027 L794 3027 L797.72 3027 L801.45 3027 L805.17 3027 L808.9 3027 L812.62 3027 L816.35 3027 L820.07 3027 L823.79 3027 L827.52 3027 L831.24 3027 L834.97 3027 L838.69 3027 L842.42 3027 L846.14 3027 L849.86 3027 L853.59 3027 L857.31 3027 L861.04 3027 L864.76 3026.99 L868.49 3026.99 L872.21 3026.99 L875.93 3026.99 L879.66 3026.99 L883.38 3026.99 L887.11 3026.99 L890.83 3026.99 L894.56 3026.99 L898.28 3026.99 L902 3026.99 L905.73 3026.99 L909.45 3026.99 L913.18 3026.99 L916.9 3026.99 L920.63 3026.99 L924.35 3026.99 L928.07 3026.99 L931.8 3026.99 L935.52 3026.99 L939.25 3026.99 L942.97 3026.99 L946.7 3026.99 L950.42 3026.98 L954.14 3026.98 L957.87 3026.98 L961.59 3026.98 L965.32 3026.98 L969.04 3026.98 L972.77 3026.98 L976.49 3026.98 L980.21 3026.98 L983.94 3026.98 L987.66 3026.98 L991.39 3026.97 L995.11 3026.97 L998.84 3026.97 L1002.56 3026.97 L1006.29 3026.97 L1010.01 3026.97 L1013.73 3026.97 L1017.46 3026.96 L1021.18 3026.96 L1024.91 3026.96 L1028.63 3026.96 L1032.36 3026.96 L1036.08 3026.95 L1039.8 3026.95 L1043.53 3026.95 L1047.25 3026.95 L1050.98 3026.94 L1054.7 3026.94 L1058.43 3026.94 L1062.15 3026.93 L1065.87 3026.93 L1069.6 3026.93 L1073.32 3026.92 L1077.05 3026.92 L1080.77 3026.92 L1084.5 3026.91 L1088.22 3026.91 L1091.94 3026.9 L1095.67 3026.9 L1099.39 3026.89 L1103.12 3026.89 L1106.84 3026.88 L1110.57 3026.88 L1114.29 3026.87 L1118.01 3026.86 L1121.74 3026.86 L1125.46 3026.85 L1129.19 3026.84 L1132.91 3026.84 L1136.64 3026.83 L1140.36 3026.82 L1144.08 3026.81 L1147.81 3026.8 L1151.53 3026.79 L1155.26 3026.78 L1158.98 3026.77 L1162.71 3026.76 L1166.43 3026.74 L1170.15 3026.73 L1173.88 3026.72 L1177.6 3026.7 L1181.33 3026.69 L1185.05 3026.67 L1188.78 3026.66 L1192.5 3026.64 L1196.22 3026.62 L1199.95 3026.61 L1203.67 3026.59 L1207.4 3026.57 L1211.12 3026.54 L1214.85 3026.52 L1218.57 3026.5 L1222.29 3026.47 L1226.02 3026.45 L1229.74 3026.42 L1233.47 3026.39 L1237.19 3026.36 L1240.92 3026.33 L1244.64 3026.29 L1248.36 3026.26 L1252.09 3026.22 L1255.81 3026.18 L1259.54 3026.14 L1263.26 3026.1 L1266.99 3026.06 L1270.71 3026.01 L1274.43 3025.96 L1278.16 3025.91 L1281.88 3025.85 L1285.61 3025.8 L1289.33 3025.74 L1293.06 3025.67 L1296.78 3025.61 L1300.5 3025.54 L1304.23 3025.47 L1307.95 3025.39 L1311.68 3025.31 L1315.4 3025.23 L1319.13 3025.14 L1322.85 3025.05 L1326.57 3024.95 L1330.3 3024.85 L1334.02 3024.74 L1337.75 3024.63 L1341.47 3024.51 L1345.2 3024.39 L1348.92 3024.26 L1352.64 3024.12 L1356.37 3023.98 L1360.09 3023.83 L1363.82 3023.67 L1367.54 3023.51 L1371.27 3023.34 L1374.99 3023.16 L1378.71 3022.96 L1382.44 3022.77 L1386.16 3022.56 L1389.89 3022.34 L1393.61 3022.1 L1397.34 3021.86 L1401.06 3021.61 L1404.78 3021.34 L1408.51 3021.06 L1412.23 3020.77 L1415.96 3020.46 L1419.68 3020.14 L1423.41 3019.8 L1427.13 3019.44 L1430.85 3019.07 L1434.58 3018.68 L1438.3 3018.27 L1442.03 3017.84 L1445.75 3017.39 L1449.48 3016.92 L1453.2 3016.42 L1456.92 3015.9 L1460.65 3015.35 L1464.37 3014.78 L1468.1 3014.18 L1471.82 3013.55 L1475.55 3012.89 L1479.27 3012.2 L1483 3011.47 L1486.72 3010.71 L1490.44 3009.92 L1494.17 3009.08 L1497.89 3008.21 L1501.62 3007.29 L1505.34 3006.33 L1509.07 3005.32 L1512.79 3004.26 L1516.51 3003.16 L1520.24 3002 L1523.96 3000.79 L1527.69 2999.51 L1531.41 2998.18 L1535.14 2996.79 L1538.86 2995.33 L1542.58 2993.8 L1546.31 2992.21 L1550.03 2990.53 L1553.76 2988.78 L1557.48 2986.95 L1561.21 2985.04 L1564.93 2983.03 L1568.65 2980.94 L1572.38 2978.75 L1576.1 2976.45 L1579.83 2974.06 L1583.55 2971.56 L1587.28 2968.95 L1591 2966.22 L1594.72 2963.37 L1598.45 2960.39 L1602.17 2957.29 L1605.9 2954.05 L1609.62 2950.67 L1613.35 2947.15 L1617.07 2943.47 L1620.79 2939.64 L1624.52 2935.66 L1628.24 2931.5 L1631.97 2927.18 L1635.69 2922.68 L1639.42 2917.99 L1643.14 2913.12 L1646.86 2908.06 L1650.59 2902.8 L1654.31 2897.34 L1658.04 2891.67 L1661.76 2885.79 L1665.49 2879.69 L1669.21 2873.37 L1672.93 2866.82 L1676.66 2860.04 L1680.38 2853.03 L1684.11 2845.77 L1687.83 2838.28 L1691.56 2830.53 L1695.28 2822.54 L1699 2814.3 L1702.73 2805.81 L1706.45 2797.06 L1710.18 2788.05 L1713.9 2778.8 L1717.63 2769.28 L1721.35 2759.52 L1725.07 2749.5 L1728.8 2739.23 L1732.52 2728.72 L1736.25 2717.96 L1739.97 2706.96 L1743.7 2695.74 L1747.42 2684.28 L1751.14 2672.61 L1754.87 2660.72 L1758.59 2648.63 L1762.32 2636.35 L1766.04 2623.88 L1769.77 2611.24 L1773.49 2598.44 L1777.21 2585.49 L1780.94 2572.4 L1784.66 2559.18 L1788.39 2545.86 L1792.11 2532.45 L1795.84 2518.95 L1799.56 2505.39 L1803.28 2491.78 L1807.01 2478.14 L1810.73 2464.48 L1814.46 2450.82 L1818.18 2437.17 L1821.91 2423.56 L1825.63 2409.99 L1829.35 2396.48 L1833.08 2383.05 L1836.8 2369.72 L1840.53 2356.49 L1844.25 2343.38 L1847.98 2330.41 L1851.7 2317.58 L1855.42 2304.92 L1859.15 2292.43 L1862.87 2280.12 L1866.6 2268 L1870.32 2256.08 L1874.05 2244.38 L1877.77 2232.89 L1881.49 2221.63 L1885.22 2210.6 L1888.94 2199.81 L1892.67 2189.26 L1896.39 2178.96 L1900.12 2168.9 L1903.84 2159.1 L1907.56 2149.55 L1911.29 2140.26 L1915.01 2131.22 L1918.74 2122.43 L1922.46 2113.9 L1926.19 2105.62 L1929.91 2097.6 L1933.63 2089.82 L1937.36 2082.29 L1941.08 2075 L1944.81 2067.95 L1948.53 2061.13 L1952.26 2054.55 L1955.98 2048.2 L1959.71 2042.07 L1963.43 2036.16 L1967.15 2030.46 L1970.88 2024.97 L1974.6 2019.68 L1978.33 2014.59 L1982.05 2009.69 L1985.78 2004.98 L1989.5 2000.46 L1993.22 1996.11 L1996.95 1991.93 L2000.67 1987.92 L2004.4 1984.07 L2008.12 1980.37 L2011.85 1976.83 L2015.57 1973.43 L2019.29 1970.17 L2023.02 1967.04 L2026.74 1964.05 L2030.47 1961.18 L2034.19 1958.44 L2037.92 1955.81 L2041.64 1953.29 L2045.36 1950.88 L2049.09 1948.58 L2052.81 1946.37" fill="none" stroke="#000" stroke-width="4" stroke-linejoin="round" stroke-linecap="round"/>
<path d="M563.09 3072 L566.86 3072 L570.62 3072 L574.38 3072 L578.14 3072 M593.19 3072 L596.95 3072 L600.71 3072 L604.47 3072 L608.24 3072 M623.28 3072 L627.05 3072 L630.81 3072 L634.57 3072 L638.33 3072 M653.38 3072 L657.14 3072 L660.9 3072 L664.67 3072 L668.43 3072 M683.48 3072 L687.24 3072 L691 3072 L694.76 3072 L698.52 3072 M713.57 3072 L717.33 3072 L721.09 3072 L724.86 3072 L728.62 3072 M743.67 3072 L747.43 3072 L751.19 3072 L754.95 3072 L758.71 3072 M773.76 3072 L777.52 3072 L781.28 3072 L785.05 3072 L788.81 3072 M803.86 3072 L807.62 3072 L811.38 3072 L815.14 3072 L818.9 3072 M833.95 3072 L837.71 3072 L841.48 3072 L845.24 3072 L849 3072 M864.05 3072 L867.81 3072 L871.57 3072 L875.33 3072 L879.09 3072 M894.14 3072 L897.9 3072 L901.67 3072 L905.43 3072 L909.19 3072 M924.24 3072 L928 3072 L931.76 3072 L935.52 3072 L939.29 3072 M954.33 3072 L958.09 3072 L961.86 3072 L965.62 3072 L969.38 3072 M984.43 3071.99 L988.19 3071.99 L991.95 3071.99 L995.71 3071.99 L999.48 3071.99 M1014.52 3071.99 L1018.29 3071.99 L1022.05 3071.99 L1025.81 3071.99 L1029.57 3071.99 M1044.62 3071.99 L1048.38 3071.99 L1052.14 3071.99 L1055.9 3071.99 L1059.67 3071.99 M1074.71 3071.98 L1078.48 3071.98 L1082.24 3071.98 L1086 3071.98 L1089.76 3071.98 M1104.81 3071.97 L1108.57 3071.97 L1112.33 3071.97 L1116.1 3071.97 L1119.86 3071.97 M1134.9 3071.96 L1138.67 3071.95 L1142.43 3071.95 L1146.19 3071.95 L1149.95 3071.95 M1165 3071.93 L1168.76 3071.93 L1172.52 3071.93 L1176.29 3071.92 L1180.05 3071.92 M1195.1 3071.9 L1198.86 3071.89 L1202.62 3071.89 L1206.38 3071.88 L1210.14 3071.88 M1225.19 3071.85 L1228.95 3071.84 L1232.71 3071.83 L1236.48 3071.82 L1240.24 3071.81 M1255.29 3071.76 L1259.05 3071.75 L1262.81 3071.74 L1266.57 3071.72 L1270.33 3071.71 M1285.38 3071.64 L1289.14 3071.62 L1292.91 3071.6 L1296.67 3071.58 L1300.43 3071.56 M1315.48 3071.45 L1319.24 3071.42 L1323 3071.39 L1326.76 3071.36 L1330.52 3071.32 M1345.57 3071.16 L1349.33 3071.12 L1353.1 3071.07 L1356.86 3071.02 L1360.62 3070.96 M1375.67 3070.72 L1379.43 3070.65 L1383.19 3070.58 L1386.95 3070.5 L1390.72 3070.42 M1405.76 3070.04 L1409.52 3069.94 L1413.29 3069.83 L1417.05 3069.71 L1420.81 3069.58 M1435.86 3069.01 L1439.62 3068.85 L1443.38 3068.68 L1447.14 3068.5 L1450.91 3068.31 M1465.95 3067.45 L1469.72 3067.2 L1473.48 3066.94 L1477.24 3066.67 L1481 3066.38 M1496.05 3065.06 L1499.81 3064.68 L1503.57 3064.29 L1507.33 3063.87 L1511.1 3063.43 M1526.14 3061.43 L1529.91 3060.86 L1533.67 3060.26 L1537.43 3059.63 L1541.19 3058.97 M1556.24 3055.94 L1560 3055.08 L1563.76 3054.18 L1567.53 3053.23 L1571.29 3052.22 M1586.33 3047.67 L1590.1 3046.38 L1593.86 3045.02 L1597.62 3043.59 L1601.38 3042.09 M1616.43 3035.28 L1620.19 3033.36 L1623.95 3031.34 L1627.72 3029.22 L1631.48 3027 M1646.53 3016.95 L1650.29 3014.12 L1654.05 3011.16 L1657.81 3008.06 L1661.57 3004.8 M1676.62 2990.21 L1680.38 2986.13 L1684.14 2981.87 L1687.91 2977.42 L1691.67 2972.78 M1706.72 2952.1 L1710.48 2946.38 L1714.24 2940.42 L1718 2934.23 L1721.76 2927.79 M1736.81 2899.49 L1740.57 2891.76 L1744.34 2883.76 L1748.1 2875.49 L1751.86 2866.94 M1766.91 2829.99 L1770.67 2820.07 L1774.43 2809.88 L1778.19 2799.42 L1781.95 2788.7 M1797 2743.33 L1800.76 2731.41 L1804.53 2719.27 L1808.29 2706.93 L1812.05 2694.41 M1827.1 2642.71 L1830.86 2629.46 L1834.62 2616.13 L1838.38 2602.71 L1842.15 2589.24 M1857.19 2535.14 L1860.95 2521.66 L1864.72 2508.23 L1868.48 2494.88 L1872.24 2481.61 M1887.29 2429.82 L1891.05 2417.26 L1894.81 2404.89 L1898.57 2392.72 L1902.34 2380.75 M1917.38 2335.21 L1921.15 2324.45 L1924.91 2313.94 L1928.67 2303.7 L1932.43 2293.73 M1947.48 2256.59 L1951.24 2248 L1955 2239.67 L1958.76 2231.63 L1962.53 2223.85 M1977.57 2195.37 L1981.34 2188.89 L1985.1 2182.65 L1988.86 2176.65 L1992.62 2170.89 M2007.67 2150.06 L2011.43 2145.38 L2015.19 2140.9 L2018.96 2136.6 L2022.72 2132.49 M2037.76 2117.78 L2041.53 2114.51 L2045.29 2111.38 L2049.05 2108.39 L2052.81 2105.54" fill="none" stroke="#000" stroke-width="3.5" stroke-linecap="round" stroke-linejoin="round"/>
</g>
<g id="panelB-legend">
<rect x="1438" y="1960" width="35" height="35" fill="#000"/>
<circle cx="1455.6" cy="2065" r="17.7" fill="#fff" stroke="#000" stroke-width="3.5"/>
<text transform="translate(1552.5 2001.8) scale(0.998 1)" font-family='"Liberation Sans", sans-serif' font-weight="400" font-size="71.5" text-anchor="start" fill="#000">222 nm</text>
<text transform="translate(1552.5 2088.9) scale(0.998 1)" font-family='"Liberation Sans", sans-serif' font-weight="400" font-size="71.5" text-anchor="start" fill="#000">210 nm</text>
</g>
<text transform="translate(81.96 1936.68) scale(0.9721 1)" font-family='"Liberation Serif", serif' font-weight="700" font-size="125.76" fill="#000">B</text>
<text transform="translate(963.5 3479) scale(0.9655 1)" font-family='"Liberation Sans", sans-serif' font-weight="700" font-size="103.5" text-anchor="start" fill="#000" id="xtitleB">Temperature (°C)</text>
<g id="ytitleB"><title>[θ]</title>
<text transform="translate(187.55 2655.68) rotate(-90) scale(0.8608 1)" font-family='"Liberation Serif", serif' font-weight="700" font-size="124.84" fill="#000">[</text>
<text transform="translate(181 2623.56) rotate(-90) scale(1.0359 1)" font-family='"Liberation Serif", serif' font-weight="700" font-size="110.14" fill="#000">θ</text>
<text transform="translate(187.55 2563.94) rotate(-90) scale(0.8608 1)" font-family='"Liberation Serif", serif' font-weight="700" font-size="124.84" fill="#000">]</text>
</g>
<rect x="2337" y="0" width="34" height="3528" fill="#fff"/>
</g>
</svg>
</div>
</body>
</html>
